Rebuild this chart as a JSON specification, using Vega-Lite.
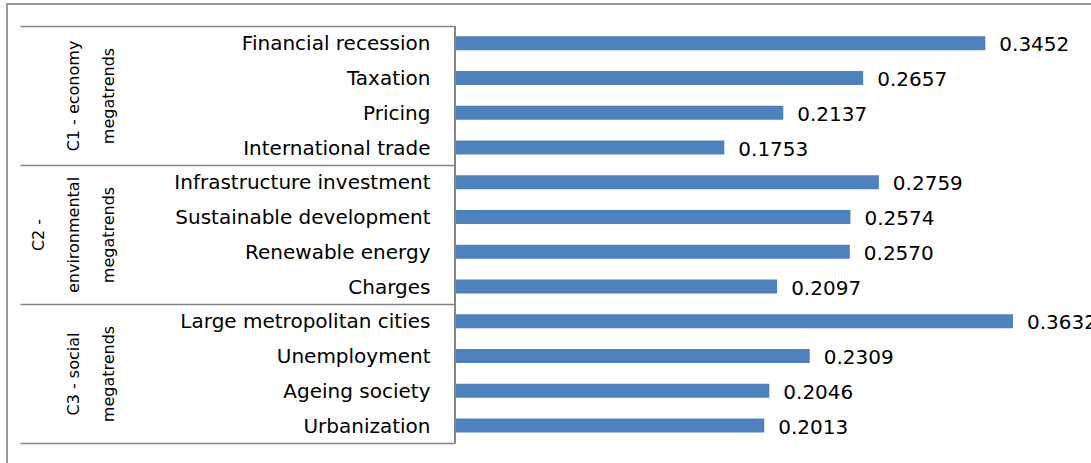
{
  "$schema": "https://vega.github.io/schema/vega-lite/v6.json",
  "width": 1094,
  "height": 465,
  "autosize": "none",
  "padding": {"left": 7, "top": 4, "right": 0, "bottom": 0},
  "background": "white",
  "config": {"view": {"stroke": "#9a9a9a", "strokeWidth": 2}, "font": "DejaVu Sans"},
  "data": {
    "values": [
      {"group": "|C1 - economy|megatrends", "item": "Financial recession", "value": 0.3452},
      {"group": "|C1 - economy|megatrends", "item": "Taxation", "value": 0.2657},
      {"group": "|C1 - economy|megatrends", "item": "Pricing", "value": 0.2137},
      {"group": "|C1 - economy|megatrends", "item": "International trade", "value": 0.1753},
      {"group": "C2 -|environmental|megatrends", "item": "Infrastructure investment", "value": 0.2759},
      {"group": "C2 -|environmental|megatrends", "item": "Sustainable development", "value": 0.2574},
      {"group": "C2 -|environmental|megatrends", "item": "Renewable energy", "value": 0.2570},
      {"group": "C2 -|environmental|megatrends", "item": "Charges", "value": 0.2097},
      {"group": "|C3 - social|megatrends", "item": "Large metropolitan cities", "value": 0.3632},
      {"group": "|C3 - social|megatrends", "item": "Unemployment", "value": 0.2309},
      {"group": "|C3 - social|megatrends", "item": "Ageing society", "value": 0.2046},
      {"group": "|C3 - social|megatrends", "item": "Urbanization", "value": 0.2013}
    ]
  },
  "layer": [
    {
      "encoding": {
        "y": {
          "field": "item", "type": "nominal", "sort": null,
          "scale": {"paddingInner": 0.6, "paddingOuter": 0.9906, "align": 0.470},
          "axis": {"title": null, "orient": "left", "domain": false, "ticks": false, "labelPadding": -423, "labelAlign": "right", "labelFontSize": 20, "labelColor": "#000000", "labelFont": "DejaVu Sans", "labelLimit": 0, "labelBaseline": "middle", "labelOffset": 1}
        },
        "x": {"field": "value", "type": "quantitative", "scale": {"domain": [-0.2916, 0.4205], "nice": false, "zero": false}, "axis": null}
      },
      "layer": [
        {"mark": {"type": "bar", "color": "#4F81BD"}},
        {
          "mark": {"type": "text", "align": "left", "baseline": "middle", "dx": 14, "dy": 2, "fontSize": 20, "font": "DejaVu Sans", "color": "#000000"},
          "encoding": {"text": {"field": "value", "type": "quantitative", "format": ".4f"}}
        }
      ]
    },
    {
      "mark": {"type": "bar", "fillOpacity": 0, "stroke": "#868686", "strokeWidth": 1.5},
      "encoding": {
        "x": {"datum": 0, "type": "quantitative"},
        "x2": {"datum": 0},
        "y": {
          "field": "group", "type": "nominal",
          "sort": ["|C1 - economy|megatrends", "C2 -|environmental|megatrends", "|C3 - social|megatrends"],
          "scale": {"paddingInner": 0, "paddingOuter": 0.1727, "align": 0.4583},
          "axis": {"title": null, "orient": "left", "offset": -448, "domain": false, "ticks": true, "tickBand": "extent", "tickSize": 435, "tickColor": "#868686", "tickWidth": 1.5, "labelAngle": -90, "labelAlign": "center", "labelBaseline": "bottom", "labelPadding": -26, "labelFontSize": 16, "labelLineHeight": 35, "labelExpr": "split(datum.label, '|')", "labelColor": "#000000", "labelFont": "DejaVu Sans", "labelLimit": 0}
        }
      }
    }
  ],
  "resolve": {"scale": {"y": "independent"}, "axis": {"y": "independent"}}
}
